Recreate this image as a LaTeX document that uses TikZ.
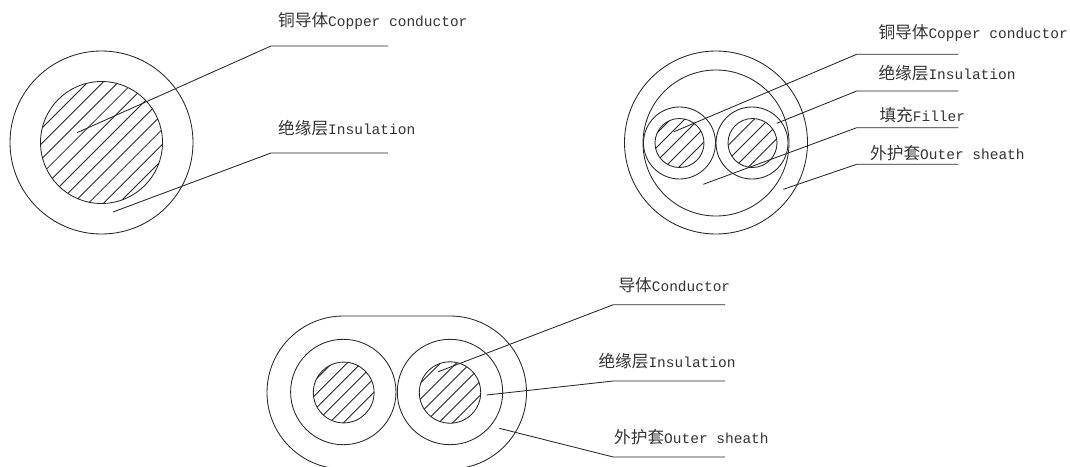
\documentclass[tikz,border=0pt]{standalone}
\usepackage{fontspec}
\setmonofont{Liberation Mono}
\newfontfamily\cjk[Scale=1.15]{Noto Sans CJK SC}
\newcommand{\hatchdisc}[4]{%
  \begin{scope}[shift={(#1,#2)}]
    \clip (0,0) circle (#3);
    \foreach \d in {#4}
      \draw[wire] (\d/2-70,\d/2+70) -- (\d/2+70,\d/2-70);
  \end{scope}
  \draw[wire] (#1,#2) circle (#3);}
\tikzset{
  wire/.style={line width=0.85pt, black!85},
  tag/.style={anchor=west, inner sep=0pt, text=black!80, font=\fontsize{14.5}{18}\selectfont\ttfamily}
}
\begin{document}
\begin{tikzpicture}[x=1pt, y=-1pt]
    \useasboundingbox (0,0) rectangle (1070,466);
    \clip (0,0) rectangle (1070,466);

    % single core
    \draw[wire] (101.5,142.5) circle (91.5);
    \hatchdisc{101.5}{142.5}{61}{-74,-58.8,...,78}
    \node[tag] (copperA) at (278,21) {{\cjk 铜导体}Copper conductor};
    \node[tag] (insulA) at (278,128.5) {{\cjk 绝缘层}Insulation};
    \coordinate (copperAtip) at (77,132.7);
    \coordinate (copperAbend) at (271,46);
    \coordinate (copperAend) at (388,46);
    \coordinate (insulAtip) at (113,212);
    \coordinate (insulAbend) at (271,153);
    \coordinate (insulAend) at (388,153);
    \draw[wire] (copperAtip) -- (copperAbend) -- (copperAend);
    \draw[wire] (insulAtip) -- (insulAbend) -- (insulAend);

    % two cores, round sheath
    \draw[wire] (716,142.5) circle (91.5);
    \draw[wire] (716,143) circle (73);
    \draw[wire] (679.5,143) circle (36);
    \draw[wire] (752,143) circle (36);
    \hatchdisc{679.5}{143}{24.5}{-32.5,-18.5,-4.5,9.5,23.5}
    \hatchdisc{752.5}{143}{24.5}{-22,-7.5,6.5,20}
    \node[tag] (copperB) at (878.3,33.3) {{\cjk 铜导体}Copper conductor};
    \node[tag] (insulB) at (878.3,73.3) {{\cjk 绝缘层}Insulation};
    \node[tag] (fillerB) at (879.3,115.3) {{\cjk 填充}Filler};
    \node[tag] (sheathB) at (870,152.7) {{\cjk 外护套}Outer sheath};
    \coordinate (copperBtip) at (674,131.7);
    \coordinate (copperBbend) at (856.7,54.3);
    \coordinate (copperBend) at (958.3,54.3);
    \coordinate (insulBtip) at (776.7,123.3);
    \coordinate (insulBbend) at (856.7,91);
    \coordinate (insulBend) at (958.3,91);
    \coordinate (fillerBtip) at (703.3,184.3);
    \coordinate (fillerBbend) at (856.7,127.7);
    \coordinate (fillerBend) at (958.3,127.7);
    \coordinate (sheathBtip) at (783.3,189.3);
    \coordinate (sheathBbend) at (856.7,164.3);
    \coordinate (sheathBend) at (958.3,164.3);
    \draw[wire] (copperBtip) -- (copperBbend) -- (copperBend);
    \draw[wire] (insulBtip) -- (insulBbend) -- (insulBend);
    \draw[wire] (fillerBtip) -- (fillerBbend) -- (fillerBend);
    \draw[wire] (sheathBtip) -- (sheathBbend) -- (sheathBend);

    % two cores, flat sheath
    \draw[wire] (343.5,316) -- (450,316) arc[start angle=-90, end angle=90, radius=76.5]
      -- (343.5,469) arc[start angle=90, end angle=270, radius=76.5] -- cycle;
    \draw[wire] (343.3,392) circle (52.7);
    \draw[wire] (450,392) circle (52.7);
    \hatchdisc{343.7}{392.5}{30.4}{-41,-26,-12,2,16,30}
    \hatchdisc{450}{392.5}{30.7}{-39,-23,-9,5,19,33}
    \node[tag] (copperC) at (618.3,285) {{\cjk 导体}Conductor};
    \node[tag] (insulC) at (598.3,361) {{\cjk 绝缘层}Insulation};
    \node[tag] (sheathC) at (614,437) {{\cjk 外护套}Outer sheath};
    \coordinate (copperCtip) at (438.3,371.7);
    \coordinate (copperCbend) at (613.3,304.7);
    \coordinate (copperCend) at (725,304.7);
    \coordinate (insulCtip) at (486.7,395);
    \coordinate (insulCbend) at (613.3,381);
    \coordinate (insulCend) at (725,381);
    \coordinate (sheathCtip) at (499.3,428.3);
    \coordinate (sheathCbend) at (613.3,457);
    \coordinate (sheathCend) at (725,457);
    \draw[wire] (copperCtip) -- (copperCbend) -- (copperCend);
    \draw[wire] (insulCtip) -- (insulCbend) -- (insulCend);
    \draw[wire] (sheathCtip) -- (sheathCbend) -- (sheathCend);
\end{tikzpicture}
\end{document}
